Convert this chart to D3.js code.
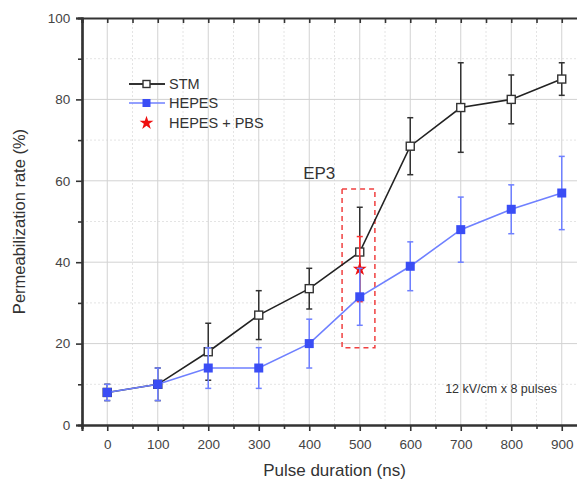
<!DOCTYPE html>
<html>
<head>
<meta charset="utf-8">
<script src="https://cdn.jsdelivr.net/npm/d3@7"></script>
<style>
  body { margin: 0; background: #fff; }
  text { font-family: "Liberation Sans", Arial, sans-serif; }
</style>
</head>
<body>
<svg id="chart" width="577" height="490"></svg>
<script>
// data
var durations = [0, 100, 200, 300, 400, 500, 600, 700, 800, 900];
var stm = [8, 10, 18, 27, 33.5, 42.5, 68.5, 78, 80, 85];
var stmErr = [2, 4, 7, 6, 5, 11, 7, 11, 6, 4];
var hepes = [8, 10, 14, 14, 20, 31.5, 39, 48, 53, 57];
var hepesErr = [2, 4, 5, 5, 6, 7, 6, 8, 6, 9];
var pbsX = [500];
var pbs = [38.3];
var pbsErr = [8];
var xTicks = [0, 100, 200, 300, 400, 500, 600, 700, 800, 900];
var yTicks = [0, 20, 40, 60, 80, 100];

var svg = d3.select("#chart");
var x = d3.scaleLinear().domain([-50, 950]).range([82, 587]);
var y = d3.scaleLinear().domain([0, 100]).range([425, 18]);

var g = svg.append("g");

// grid
var minorX = d3.range(-50, 951, 50).filter(function(d) { return d % 100 != 0; });
var minorY = d3.range(10, 100, 20);
g.selectAll(".mgx").data(minorX).enter().append("line")
  .attr("x1", x).attr("x2", x).attr("y1", y(0)).attr("y2", y(100))
  .attr("stroke", "#e4e4e4").attr("stroke-dasharray", "2,2");
g.selectAll(".mgy").data(minorY).enter().append("line")
  .attr("x1", x(-50)).attr("x2", x(950)).attr("y1", y).attr("y2", y)
  .attr("stroke", "#e4e4e4").attr("stroke-dasharray", "2,2");
g.selectAll(".gx").data(xTicks).enter().append("line")
  .attr("x1", x).attr("x2", x).attr("y1", y(0)).attr("y2", y(100))
  .attr("stroke", "#d2d2d2");
g.selectAll(".gy").data(yTicks.slice(1, 5)).enter().append("line")
  .attr("x1", x(-50)).attr("x2", x(950)).attr("y1", y).attr("y2", y)
  .attr("stroke", "#d2d2d2");

// red dashed box + label
g.append("rect")
  .attr("x", x(465)).attr("y", y(58))
  .attr("width", x(530) - x(465)).attr("height", y(19) - y(58))
  .attr("fill", "none").attr("stroke", "#f04040").attr("stroke-width", 1.5)
  .attr("stroke-dasharray", "5,4");
g.append("text").attr("x", x(388)).attr("y", y(60.5))
  .attr("font-size", 17).attr("fill", "#333").text("EP3");

function errorBars(xs, vals, errs, color) {
  xs.forEach(function(d, i) {
    var cx = x(d);
    g.append("line").attr("x1", cx).attr("x2", cx)
      .attr("y1", y(vals[i] - errs[i])).attr("y2", y(vals[i] + errs[i]))
      .attr("stroke", color).attr("stroke-width", 1.5);
    [vals[i] - errs[i], vals[i] + errs[i]].forEach(function(v) {
      g.append("line").attr("x1", cx - 3).attr("x2", cx + 3)
        .attr("y1", y(v)).attr("y2", y(v))
        .attr("stroke", color).attr("stroke-width", 1.5);
    });
  });
}

var line = d3.line().x(function(d) { return x(d[0]); }).y(function(d) { return y(d[1]); });

// STM
errorBars(durations, stm, stmErr, "#333");
g.append("path").datum(d3.zip(durations, stm)).attr("d", line)
  .attr("fill", "none").attr("stroke", "#222").attr("stroke-width", 1.6);
g.selectAll(".stm").data(d3.zip(durations, stm)).enter().append("rect")
  .attr("x", function(d) { return x(d[0]) - 4; }).attr("y", function(d) { return y(d[1]) - 4; })
  .attr("width", 8).attr("height", 8)
  .attr("fill", "#fff").attr("stroke", "#333").attr("stroke-width", 1.4);

// HEPES + PBS
errorBars(pbsX, pbs, pbsErr, "#ff3030");
g.selectAll(".pbs").data(d3.zip(pbsX, pbs)).enter().append("path")
  .attr("d", d3.symbol(d3.symbolStar, 60))
  .attr("transform", function(d) { return "translate(" + x(d[0]) + "," + y(d[1]) + ")"; })
  .attr("fill", "#ee1010");

// HEPES
errorBars(durations, hepes, hepesErr, "#6f80ff");
g.append("path").datum(d3.zip(durations, hepes)).attr("d", line)
  .attr("fill", "none").attr("stroke", "#6f80ff").attr("stroke-width", 1.6);
g.selectAll(".hep").data(d3.zip(durations, hepes)).enter().append("rect")
  .attr("x", function(d) { return x(d[0]) - 4.5; }).attr("y", function(d) { return y(d[1]) - 4.5; })
  .attr("width", 9).attr("height", 9)
  .attr("fill", "#3a4df5");

// axes
var bAxis = d3.axisBottom(x).tickValues(xTicks).tickSize(6).tickFormat(d3.format("d"));
var bMinor = d3.axisBottom(x).tickValues(minorX).tickSize(4).tickFormat("");
var tAxis = d3.axisBottom(x).tickValues(d3.range(-50, 951, 50)).tickSize(5).tickFormat("");
var lAxis = d3.axisLeft(y).tickValues(yTicks).tickSize(6);
var lMinor = d3.axisLeft(y).tickValues(minorY).tickSize(4).tickFormat("");

function style(sel) {
  sel.select(".domain").attr("stroke", "#333").attr("stroke-width", 2.2);
  sel.selectAll(".tick line").attr("stroke", "#333").attr("stroke-width", 1.6);
  sel.selectAll(".tick text").attr("fill", "#444").attr("font-size", 13.5)
    .attr("font-family", "Liberation Sans, Arial, sans-serif");
}
svg.append("g").attr("transform", "translate(0," + y(0) + ")").call(bMinor).call(style);
svg.append("g").attr("transform", "translate(0," + y(0) + ")").call(bAxis).call(style)
  .selectAll(".tick text").attr("dy", "1.1em");
svg.append("g").attr("transform", "translate(0," + y(100) + ")").call(tAxis).call(style);
svg.append("g").attr("transform", "translate(" + x(-50) + ",0)").call(lMinor).call(style);
svg.append("g").attr("transform", "translate(" + x(-50) + ",0)").call(lAxis).call(style)
  .selectAll(".tick text").attr("dx", "-0.2em");

// axis titles
svg.append("text").attr("x", x(450)).attr("y", 476).attr("text-anchor", "middle")
  .attr("font-size", 17).attr("fill", "#333").text("Pulse duration (ns)");
svg.append("text").attr("transform", "translate(25," + y(50) + ") rotate(-90)")
  .attr("text-anchor", "middle").attr("font-size", 16.5).attr("fill", "#333")
  .text("Permeabilization rate (%)");

svg.append("text").attr("x", 557).attr("y", 393).attr("text-anchor", "end")
  .attr("font-size", 12.5).attr("fill", "#333").text("12 kV/cm x 8 pulses");

// legend
var leg = svg.append("g");
var items = [
  {name: "STM", y: 84},
  {name: "HEPES", y: 103},
  {name: "HEPES + PBS", y: 123}
];
leg.append("line").attr("x1", 129).attr("x2", 165).attr("y1", 84).attr("y2", 84)
  .attr("stroke", "#333").attr("stroke-width", 2);
leg.append("rect").attr("x", 143).attr("y", 80.5).attr("width", 7).attr("height", 7)
  .attr("fill", "#fff").attr("stroke", "#333").attr("stroke-width", 1.4);
leg.append("line").attr("x1", 129).attr("x2", 165).attr("y1", 103).attr("y2", 103)
  .attr("stroke", "#6f80ff").attr("stroke-width", 1.5);
leg.append("rect").attr("x", 142.5).attr("y", 99).attr("width", 8).attr("height", 8)
  .attr("fill", "#3a4df5");
leg.append("path").attr("d", d3.symbol(d3.symbolStar, 60))
  .attr("transform", "translate(146.5,123)").attr("fill", "#ee1010");
leg.selectAll(".lt").data(items).enter().append("text")
  .attr("x", 169).attr("y", function(d) { return d.y + 5; })
  .attr("font-size", 14.5).attr("fill", "#333").text(function(d) { return d.name; });
</script>
</body>
</html>
